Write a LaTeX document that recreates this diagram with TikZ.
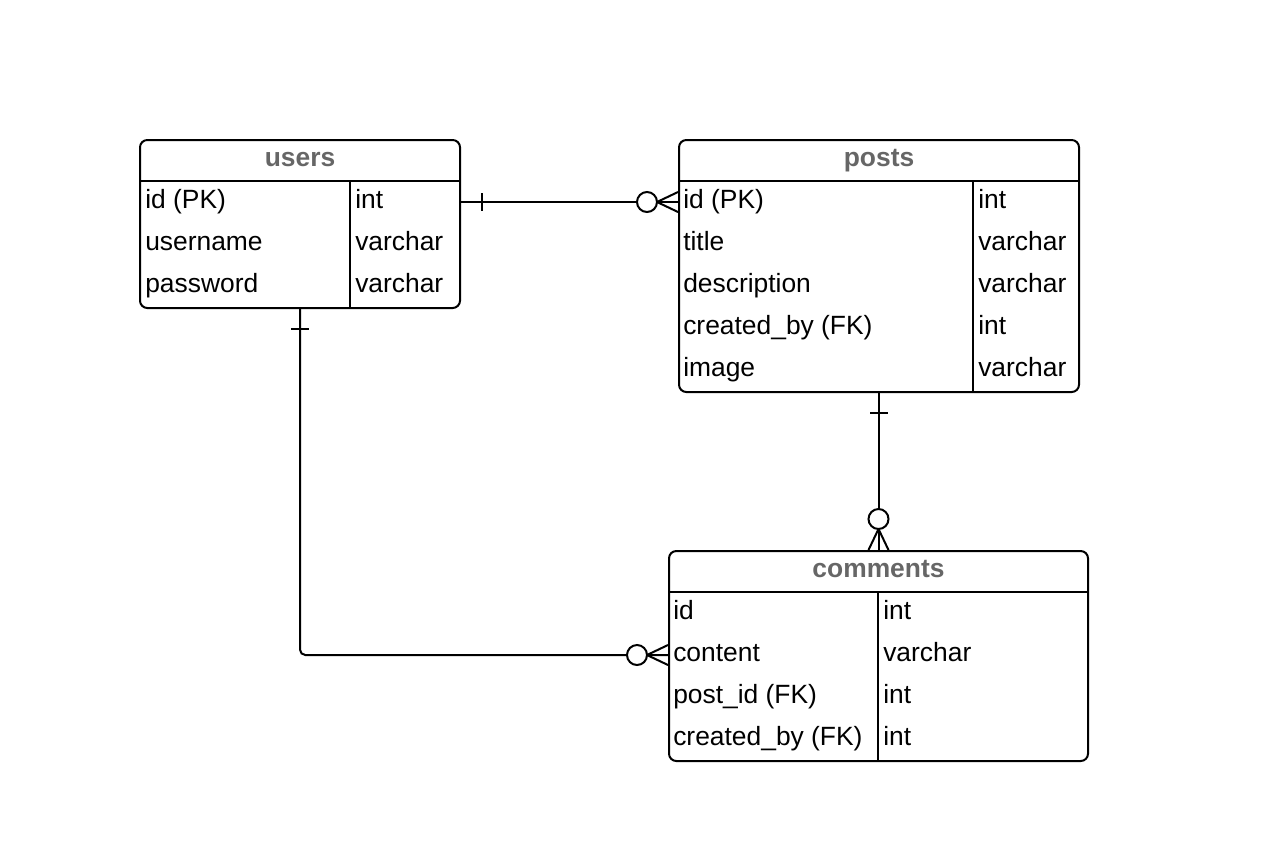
\documentclass[tikz,border=0pt]{standalone}
\usepackage{fontspec}
\setmainfont{Liberation Sans}
\definecolor{headgray}{HTML}{666666}
\tikzstyle{tablebox}=[draw,rounded corners=5.5pt,line width=1.5pt,anchor=north west,inner sep=0pt]
\tikzstyle{headtext}=[anchor=base,text=headgray,font=\bfseries\fontsize{19.8}{23}\selectfont,inner sep=0pt]
\tikzstyle{rowtext}=[anchor=base west,font=\fontsize{19.8}{23}\selectfont,inner sep=0pt]
\tikzstyle{erline}=[line width=1.5pt]
\tikzstyle{zerocirc}=[draw,fill=white,line width=1.5pt]

\begin{document}
\begin{tikzpicture}[x=0.75pt,y=-0.75pt]
    \useasboundingbox (1,1) rectangle (1277,866);

    % tables
    \node[tablebox,minimum width=240pt,minimum height=126pt] (users) at (140,140) {};
    \node[tablebox,minimum width=300pt,minimum height=189pt] (posts) at (679,140) {};
    \node[tablebox,minimum width=314.25pt,minimum height=157.5pt] (comments) at (669,551) {};

    \node[headtext] (usershead) at ([shift={(0,27)}]users.north) {users};
    \node[headtext] (postshead) at ([shift={(0,27)}]posts.north) {posts};
    \node[headtext] (commentshead) at ([shift={(0,27)}]comments.north) {comments};

    \foreach \tab in {users,posts,comments}
    \draw[erline] ([shift={(0,42)}]\tab.north west) -- ([shift={(0,42)}]\tab.north east);

    \draw[erline] ([shift={(211,42)}]users.north west) -- ([shift={(211,0)}]users.south west);
    \draw[erline] ([shift={(295,42)}]posts.north west) -- ([shift={(295,0)}]posts.south west);
    \draw[erline] ([shift={(210,42)}]comments.north west) -- ([shift={(210,0)}]comments.south west);

    \foreach \name/\type [count=\i] in {id (PK)/int,username/varchar,password/varchar} {
        \node[rowtext] (users-n\i) at ([shift={(6,27+42*\i)}]users.north west) {\name};
        \node[rowtext] (users-t\i) at ([shift={(216,27+42*\i)}]users.north west) {\type};
    }
    \foreach \name/\type [count=\i] in {id (PK)/int,title/varchar,description/varchar,created\_by (FK)/int,image/varchar} {
        \node[rowtext] (posts-n\i) at ([shift={(5,27+42*\i)}]posts.north west) {\name};
        \node[rowtext] (posts-t\i) at ([shift={(300,27+42*\i)}]posts.north west) {\type};
    }
    \foreach \name/\type [count=\i] in {id/int,content/varchar,post\_id (FK)/int,created\_by (FK)/int} {
        \node[rowtext] (comments-n\i) at ([shift={(5,27+42*\i)}]comments.north west) {\name};
        \node[rowtext] (comments-t\i) at ([shift={(215,27+42*\i)}]comments.north west) {\type};
    }

    % users -- posts
    \draw[erline] ([shift={(0,63)}]users.north east) -- ([shift={(0,63)}]posts.north west);
    \draw[erline] ([shift={(21,54)}]users.north east) -- ([shift={(21,72)}]users.north east);
    \draw[erline] ([shift={(-21,63)}]posts.north west) -- ([shift={(0,53)}]posts.north west);
    \draw[erline] ([shift={(-21,63)}]posts.north west) -- ([shift={(0,73)}]posts.north west);
    \draw[zerocirc] ([shift={(-31,63)}]posts.north west) circle (7.5pt);

    % posts -- comments
    \draw[erline] (posts.south) -- (posts.south |- comments.north);
    \draw[erline] ([shift={(-9,20)}]posts.south) -- ([shift={(9,20)}]posts.south);
    \draw[erline] ([shift={(0,-21)}]comments.north) -- ([shift={(-10,0)}]comments.north);
    \draw[erline] ([shift={(0,-21)}]comments.north) -- ([shift={(10,0)}]comments.north);
    \draw[zerocirc] ([shift={(0,-31)}]comments.north) circle (7.5pt);

    % users -- comments
    \draw[erline,rounded corners=4pt] (users.south) |- ([shift={(0,105)}]comments.north west);
    \draw[erline] ([shift={(-9,20)}]users.south) -- ([shift={(9,20)}]users.south);
    \draw[erline] ([shift={(-21,105)}]comments.north west) -- ([shift={(0,95)}]comments.north west);
    \draw[erline] ([shift={(-21,105)}]comments.north west) -- ([shift={(0,115)}]comments.north west);
    \draw[zerocirc] ([shift={(-31,105)}]comments.north west) circle (7.5pt);
\end{tikzpicture}
\end{document}
